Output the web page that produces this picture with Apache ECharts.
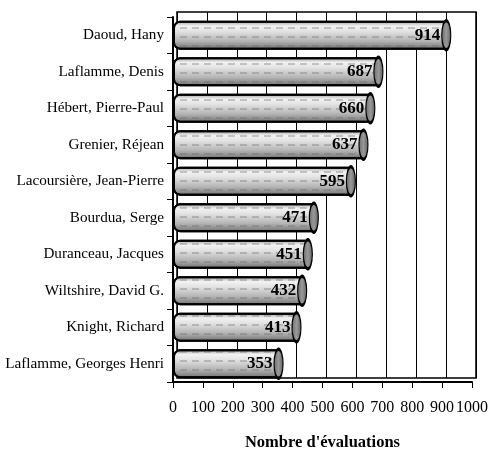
<!DOCTYPE html>
<html><head><meta charset="utf-8">
<script src="https://cdn.jsdelivr.net/npm/echarts@6/dist/echarts.min.js"></script>
<style>html,body{margin:0;padding:0;background:#fff}#c{width:488px;height:450px}</style>
</head><body><div id="c"></div>
<script>
const categories = ["Daoud, Hany","Laflamme, Denis","Hébert, Pierre-Paul","Grenier, Réjean","Lacoursière, Jean-Pierre","Bourdua, Serge","Duranceau, Jacques","Wiltshire, David G.","Knight, Richard","Laflamme, Georges Henri"];
const values = [914,687,660,637,595,471,451,432,413,353];
const xTicks = {min:0, max:1000, interval:100};
const axisTitle = "Nombre d'évaluations";

const font = "'Liberation Serif','Times New Roman',serif";
const chart = echarts.init(document.getElementById('c'));
const barGrad = new echarts.graphic.LinearGradient(0,0,0,1,[
  {offset:0,color:'#9a9a9a'},{offset:0.18,color:'#f2f2f2'},{offset:0.35,color:'#e4e4e4'},
  {offset:0.7,color:'#b4b4b4'},{offset:1,color:'#6e6e6e'}]);
const capGrad = new echarts.graphic.LinearGradient(0,0,1,0,[
  {offset:0,color:'#6a6a6a'},{offset:0.5,color:'#999'},{offset:1,color:'#5e5e5e'}]);
chart.setOption({
  animation:false,
  grid:[
    {left:173,right:16,top:17,bottom:68,outerBoundsMode:'none',containLabel:false},
    {left:177,right:12,top:12,bottom:72,outerBoundsMode:'none',containLabel:false,show:true,borderColor:'#000',borderWidth:1.5,backgroundColor:'transparent'}
  ],
  xAxis:[
    {gridIndex:0,type:'value',min:xTicks.min,max:xTicks.max,interval:xTicks.interval,
     axisLine:{show:true,lineStyle:{color:'#000',width:2}},
     axisTick:{show:true,length:6,inside:false,lineStyle:{color:'#000'}},
     splitLine:{show:false},
     axisLabel:{color:'#000',fontFamily:font,fontSize:16,margin:18,formatter:v=>String(v)},
     name:axisTitle,nameLocation:'middle',nameGap:52,
     nameTextStyle:{color:'#000',fontFamily:font,fontSize:16.5,fontWeight:'bold'}},
    {gridIndex:1,type:'value',min:xTicks.min,max:xTicks.max,interval:xTicks.interval,
     axisLine:{show:false},axisTick:{show:false},axisLabel:{show:false},
     splitLine:{show:true,lineStyle:{color:'#000',width:1}}}
  ],
  yAxis:[
    {gridIndex:0,type:'category',data:categories,inverse:true,
     axisLine:{show:true,lineStyle:{color:'#000',width:2}},
     axisTick:{show:true,length:6,lineStyle:{color:'#000'}},
     axisLabel:{color:'#000',fontFamily:font,fontSize:15.2,margin:9}},
    {gridIndex:1,type:'category',data:categories,inverse:true,show:false}
  ],
  series:[
    {type:'bar',xAxisIndex:0,yAxisIndex:0,data:values,barWidth:'79%',z:3,
     itemStyle:{color:barGrad,borderColor:'#000',borderWidth:2,borderRadius:[6,0,0,6],
       decal:{symbol:'rect',symbolSize:1,dashArrayX:[[7,5]],dashArrayY:[2,7],color:'rgba(110,110,110,0.35)',rotation:0}},
     label:{show:true,position:'insideRight',distance:6,color:'#000',fontFamily:font,fontSize:17,fontWeight:'bold'}},
    {type:'scatter',xAxisIndex:0,yAxisIndex:0,z:4,
     data:values.map((v,i)=>[v,categories[i]]),
     symbol:'path://M0,1A1,1 0 1,1 2,1A1,1 0 1,1 0,1Z',symbolSize:[9,29],
     itemStyle:{color:capGrad,borderColor:'#000',borderWidth:2,opacity:1}}
  ]
});
</script></body></html>
